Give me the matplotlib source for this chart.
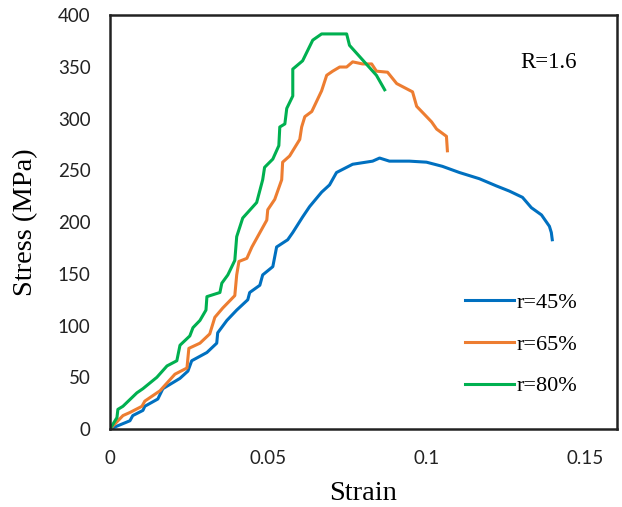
import matplotlib
matplotlib.use('Agg')
from matplotlib import pyplot as plt

# Strain / stress readings for each curve
strain_45 = [0, 0.0063, 0.0072, 0.0104, 0.0110, 0.0151, 0.0167, 0.0221, 0.0246, 0.0258, 0.0306, 0.0337,
             0.0340, 0.0369, 0.0400, 0.0435, 0.0441, 0.0473, 0.0482, 0.0514, 0.0526, 0.0561, 0.0577,
             0.0608, 0.0630, 0.0668, 0.0693, 0.0715, 0.0766, 0.0829, 0.0851, 0.0882, 0.0945, 0.0999,
             0.1049, 0.1103, 0.1166, 0.1220, 0.1261, 0.1302, 0.1330, 0.1362, 0.1387, 0.1393, 0.1396]
stress_45 = [0, 8, 13, 18, 22, 29, 39, 49, 56, 66, 74, 83,
             93, 105, 115, 125, 132, 139, 149, 157, 176, 183, 190,
             205, 215, 229, 236, 248, 256, 259, 262, 259, 259, 258,
             254, 248, 242, 235, 230, 224, 214, 207, 196, 190, 183]

strain_65 = [0, 0.0041, 0.0063, 0.0101, 0.0110, 0.0158, 0.0205, 0.0243, 0.0249, 0.0284, 0.0315, 0.0331,
             0.0356, 0.0394, 0.0400, 0.0407, 0.0432, 0.0448, 0.0495, 0.0498, 0.0520, 0.0542, 0.0545,
             0.0567, 0.0599, 0.0605, 0.0615, 0.0637, 0.0668, 0.0684, 0.0703, 0.0725, 0.0747, 0.0766,
             0.0797, 0.0826, 0.0841, 0.0876, 0.0905, 0.0955, 0.0968, 0.0990, 0.1015, 0.1031, 0.1062,
             0.1065]
stress_65 = [0, 13, 16, 22, 27, 37, 53, 59, 78, 83, 92, 108,
             117, 129, 149, 162, 165, 176, 202, 212, 222, 241, 258,
             264, 280, 292, 302, 307, 327, 342, 346, 350, 350, 355,
             353, 353, 346, 345, 334, 326, 312, 305, 297, 290, 283,
             269]

strain_80 = [0, 0.0022, 0.0025, 0.0041, 0.0085, 0.0104, 0.0148, 0.0180, 0.0211, 0.0221, 0.0252, 0.0262,
             0.0284, 0.0303, 0.0306, 0.0347, 0.0353, 0.0372, 0.0394, 0.0400, 0.0419, 0.0463, 0.0482,
             0.0488, 0.0514, 0.0533, 0.0536, 0.0552, 0.0558, 0.0577, 0.0577, 0.0608, 0.0640, 0.0668,
             0.0747, 0.0756, 0.0841, 0.0867]
stress_80 = [0, 11, 19, 22, 35, 39, 50, 61, 66, 81, 90, 98,
             105, 115, 128, 132, 141, 149, 163, 186, 204, 219, 241,
             253, 261, 274, 292, 295, 310, 322, 348, 356, 376, 382,
             382, 371, 342, 328]

labels = ['r=45%', 'r=65%', 'r=80%']
colors = ['#0070C0', '#ED7D31', '#00B050']

fig = plt.figure(figsize=(6.22, 5.07), dpi=100)
ax = fig.add_axes([0.1768, 0.1538, 0.815, 0.816])

ax.plot(strain_45, stress_45, color=colors[0], lw=2.2, label=labels[0])
ax.plot(strain_65, stress_65, color=colors[1], lw=2.2, label=labels[1])
ax.plot(strain_80, stress_80, color=colors[2], lw=2.2, label=labels[2])

ax.set_xlim(0, 0.16)
ax.set_ylim(0, 400)
ax.set_xticks([0, 0.05, 0.1, 0.15])
ax.set_xticklabels(['0', '0.05', '0.1', '0.15'])
ax.set_yticks(range(0, 401, 50))
ax.tick_params(length=0, labelsize=13.5, colors='#222222')
ax.tick_params(axis='x', pad=15)
ax.tick_params(axis='y', pad=14)
for lab in ax.get_xticklabels() + ax.get_yticklabels():
    lab.set_family('Lato')
for s in ax.spines.values():
    s.set_linewidth(1.8)
    s.set_color('#222222')

ax.set_xlabel('Strain', family='Liberation Serif', fontsize=20.5, labelpad=10)
ax.set_ylabel('Stress (MPa)', family='Liberation Serif', fontsize=20.5, labelpad=14)

ax.text(0.866, 0.885, 'R=1.6', transform=ax.transAxes, family='Liberation Serif', fontsize=16.5,
        ha='center', va='center')

ax.legend(loc='upper left', bbox_to_anchor=(0.70, 0.33), frameon=False, borderaxespad=0,
          borderpad=0, prop={'family': 'Liberation Serif', 'size': 16}, handlelength=2.2,
          handletextpad=0.15, labelspacing=0.95)

plt.savefig('out.png', dpi=100)
